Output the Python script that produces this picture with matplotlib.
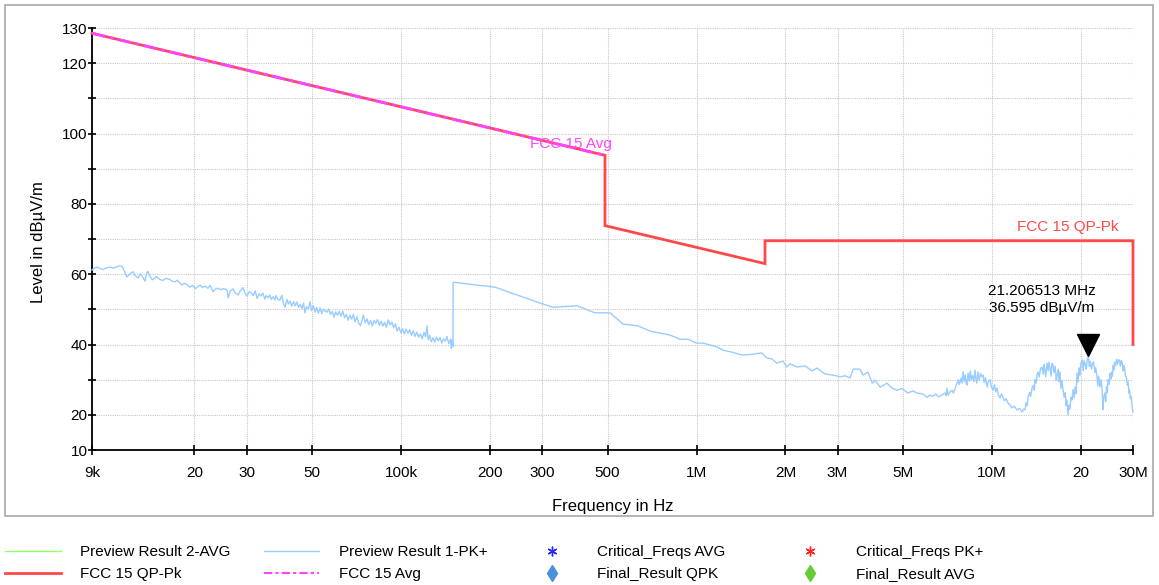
import matplotlib
matplotlib.use("Agg")
import matplotlib.pyplot as plt
from matplotlib.lines import Line2D
from matplotlib.patches import Rectangle
from matplotlib.ticker import FixedLocator, FixedFormatter, NullLocator
import matplotlib.transforms as mtransforms

plt.rcParams['font.family'] = ['Liberation Sans', 'DejaVu Sans']

# ---------------- data ----------------
# Preview Result 1-PK+ : 9 kHz - 150 kHz segment (kHz, dBuV/m)
seg_a_khz = [9.0, 9.2, 9.4, 9.6, 9.8, 10.0, 10.2, 10.4, 10.6, 10.8, 11.0, 11.2, 11.4, 11.6,
             11.8, 12.0, 12.2, 12.4, 12.6, 12.9, 13.1, 13.4, 13.6, 13.8, 13.9, 14.1, 14.4,
             14.7, 14.9, 15.2, 15.6, 16.0, 16.5, 16.8, 17.2, 17.5, 17.8, 18.1, 18.5, 18.9,
             19.3, 19.7, 20.1, 20.5, 20.9, 21.3, 21.7, 22.2, 22.6, 23.1, 23.6, 24.0, 24.5,
             25.0, 25.5, 25.8, 26.0, 26.4, 27.0, 27.5, 28.1, 28.6, 29.2, 29.7, 30.1, 30.6,
             31.1, 31.6, 32.1, 32.6, 33.1, 33.6, 34.1, 34.6, 35.0, 35.5, 36.0, 36.4, 36.9,
             37.4, 37.8, 38.3, 38.9, 39.5, 40.0, 40.5, 41.1, 41.6, 42.1, 42.7, 43.3, 43.8,
             44.4, 45.0, 45.6, 46.2, 46.8, 47.3, 47.9, 48.6, 49.2, 49.8, 50.5, 51.2, 51.8,
             52.5, 53.2, 53.9, 54.6, 55.4, 56.2, 56.9, 57.7, 58.5, 59.3, 60.1, 61.0, 61.8,
             62.6, 63.5, 64.4, 65.3, 66.2, 67.1, 68.0, 69.0, 69.9, 70.9, 71.9, 72.9, 73.9,
             74.6, 75.6, 76.7, 77.7, 78.8, 79.9, 81.0, 82.1, 83.3, 84.5, 85.6, 86.8, 88.0,
             89.3, 90.5, 91.8, 93.1, 94.4, 95.7, 97.0, 98.4, 99.8, 101.2, 102.6, 104.0,
             105.5, 107.0, 108.5, 110.0, 111.5, 113.1, 114.7, 116.3, 117.9, 119.6, 121.2,
             122.4, 123.5, 125.0, 126.5, 128.3, 130.0, 131.8, 133.6, 135.5, 137.4, 139.3,
             141.2, 143.1, 145.0, 147.0, 148.0, 149.0, 149.9]
seg_a_db = [61.2, 61.8, 62.0, 61.6, 61.3, 61.7, 61.9, 62.0, 61.7, 61.9, 62.2, 62.4, 62.1, 60.8,
            59.2, 59.8, 60.3, 60.7, 59.6, 58.9, 60.1, 59.0, 58.0, 60.4, 60.8, 59.6, 58.4,
            58.9, 59.3, 58.6, 58.2, 58.8, 58.5, 58.0, 57.8, 58.3, 57.6, 56.9, 57.4, 57.0,
            56.3, 56.8, 55.9, 56.4, 56.9, 56.2, 56.6, 56.0, 56.8, 55.0, 55.8, 56.0, 55.6,
            55.9, 55.7, 55.4, 53.2, 55.2, 55.8, 54.6, 54.1, 55.3, 56.2, 54.5, 53.8, 55.0,
            54.7, 53.9, 55.2, 53.1, 54.4, 53.8, 54.6, 52.9, 53.9, 53.3, 54.1, 52.8, 53.6,
            52.7, 53.9, 52.8, 52.6, 54.0, 51.6, 50.7, 52.8, 51.5, 52.4, 50.9, 52.2, 51.0,
            52.1, 50.6, 51.4, 50.2, 51.8, 49.0, 50.8, 50.1, 52.2, 49.6, 51.0, 49.2, 50.5,
            48.9, 50.4, 48.8, 50.0, 49.5, 49.2, 50.1, 48.6, 49.4, 47.8, 49.3, 48.3, 49.4,
            48.0, 49.5, 47.6, 48.6, 46.9, 48.3, 47.2, 48.6, 46.4, 47.9, 46.0, 45.4, 47.2,
            48.4, 46.2, 47.3, 45.6, 46.9, 45.3, 46.8, 46.0, 47.1, 45.4, 46.6, 45.2, 46.3,
            44.9, 47.0, 45.6, 46.4, 44.8, 45.9, 43.8, 44.9, 43.3, 44.5, 43.0, 44.4,
            43.2, 44.2, 42.6, 43.9, 42.3, 43.5, 42.1, 43.0, 41.6, 43.4, 42.2,
            45.3, 41.4, 42.6, 40.8, 41.9, 40.7, 42.1, 41.0, 42.0, 40.4, 41.6,
            40.9, 42.3, 40.2, 41.5, 38.9, 41.3, 39.4]

# 150 kHz - 6 MHz segment (MHz, dBuV/m)
seg_b_mhz = [0.1501, 0.208, 0.295, 0.327, 0.394, 0.453, 0.510, 0.564, 0.634, 0.696, 0.813,
             0.879, 0.936, 1.00, 1.05, 1.11, 1.17, 1.23, 1.32, 1.43, 1.54, 1.66, 1.73, 1.80,
             1.87, 1.96, 2.02, 2.07, 2.19, 2.33, 2.46, 2.56, 2.72, 2.90, 3.06, 3.18, 3.31,
             3.39, 3.57, 3.66, 3.80, 3.93, 4.02, 4.18, 4.41, 4.59, 4.77, 4.96, 5.19, 5.40,
             5.57, 5.84, 6.03]
seg_b_db = [57.7, 56.3, 51.8, 50.6, 51.0, 49.0, 49.0, 45.8, 45.3, 43.8, 42.7,
            41.5, 41.5, 40.4, 40.4, 39.9, 39.3, 38.4, 37.8, 37.0, 37.2, 37.6, 36.2, 35.9,
            34.7, 35.3, 33.6, 34.5, 33.6, 33.9, 32.5, 33.3, 31.6, 31.3, 30.8, 31.1, 30.5,
            33.0, 33.0, 31.3, 32.2, 29.0, 29.9, 27.9, 29.0, 27.6, 27.0, 27.5, 26.2, 26.8,
            26.2, 25.9, 25.0]

# 6 MHz - 30 MHz segment (MHz, dBuV/m)
seg_c_mhz = [6.16, 6.3, 6.45, 6.6, 6.75, 6.93, 7.00, 7.04, 7.10, 7.2, 7.32, 7.4, 7.5, 7.6,
             7.67, 7.75, 7.85, 7.92, 7.98, 8.05, 8.12, 8.18, 8.23, 8.30, 8.38, 8.45, 8.52,
             8.6, 8.68, 8.76, 8.82, 8.89, 8.96, 9.05, 9.15, 9.25, 9.32, 9.4, 9.5, 9.62, 9.72,
             9.85, 9.95, 10.08, 10.2, 10.3, 10.4, 10.52, 10.64, 10.76, 10.89, 11.0, 11.15,
             11.32, 11.5, 11.68, 11.9, 12.15, 12.4, 12.63, 12.8, 12.93, 13.05, 13.15, 13.24,
             13.4, 13.5, 13.66, 13.8, 13.9, 13.98, 14.1, 14.2, 14.31, 14.45, 14.6, 14.76,
             14.9, 15.0, 15.1, 15.2, 15.35, 15.5, 15.6, 15.7, 15.85, 15.95, 16.08, 16.2,
             16.35, 16.5, 16.6, 16.75, 16.85, 16.99, 17.1, 17.25, 17.39, 17.55, 17.7, 17.8,
             17.94, 18.08, 18.2, 18.35, 18.5, 18.65, 18.8, 18.95, 19.1, 19.25, 19.4, 19.55,
             19.7, 19.85, 20.0, 20.2, 20.35, 20.5, 20.7, 20.85, 21.0, 21.2, 21.35, 21.5,
             21.7, 21.9, 22.07, 22.3, 22.45, 22.66, 22.8, 22.95, 23.2, 23.4, 23.6, 23.74,
             23.9, 24.1, 24.25, 24.4, 24.55, 24.7, 24.9, 25.1, 25.25, 25.4, 25.55, 25.7,
             25.85, 26.0, 26.2, 26.4, 26.6, 26.8, 27.0, 27.2, 27.4, 27.6, 27.8, 27.95, 28.1,
             28.3, 28.5, 28.7, 28.9, 29.05, 29.2, 29.4, 29.55, 29.7, 29.85, 30.0]
seg_c_db = [25.6, 25.3, 25.9, 25.1, 25.6, 26.2, 25.4, 27.6, 25.6, 26.5, 27.0, 26.2, 27.6, 28.8,
            30.0, 28.6, 30.4, 29.0, 32.2, 29.5, 31.4, 28.8, 28.5, 31.9, 29.6, 32.5, 30.0,
            31.2, 29.4, 32.7, 30.3, 29.0, 32.2, 29.8, 31.8, 30.8, 31.3, 29.2, 30.6, 27.9, 29.6,
            30.0, 28.0, 27.0, 28.6, 26.5, 27.6, 25.6, 24.8, 26.0, 25.1, 24.0, 24.6,
            23.4, 22.8, 22.0, 22.4, 21.4, 21.8, 20.8, 21.6, 21.4, 23.5, 22.6, 25.0,
            26.4, 25.2, 27.6, 28.4, 27.0, 30.0, 29.0, 31.5, 32.2, 30.8, 33.2, 33.6,
            31.5, 34.3, 32.8, 30.8, 34.7, 32.6, 35.0, 33.3, 31.0, 34.6, 34.2, 32.0,
            33.8, 29.8, 31.3, 33.0, 29.4, 32.2, 27.5, 29.8, 27.0, 25.0, 26.3, 22.6,
            24.2, 20.0, 22.8, 21.6, 25.0, 24.2, 27.2, 24.8, 27.9, 26.0, 31.9, 29.3,
            33.4, 31.2, 34.8, 35.6, 32.6, 35.4, 34.2, 33.0, 35.8, 36.6, 33.8, 35.2,
            33.0, 34.7, 35.0, 32.0, 33.4, 30.8, 28.2, 31.0, 27.9, 30.0, 27.0, 21.4,
            25.2, 26.2, 23.8, 28.0, 26.4, 30.0, 28.6, 31.8, 30.2, 32.2, 31.0, 34.0,
            32.8, 35.0, 34.0, 35.8, 34.4, 35.6, 35.6, 33.8, 35.4, 34.7, 32.5, 34.0, 33.3,
            31.0, 30.8, 28.5, 29.3, 26.2, 27.0, 24.6, 25.3, 23.4, 21.8, 20.8]

# Limit lines
qp_freq_hz = [9e3, 490e3, 490e3, 1.705e6, 1.705e6, 30e6, 30e6]
qp_level = [128.5, 93.8, 73.8, 63.0, 69.5, 69.5, 40.0]
avg_freq_hz = [9e3, 490e3]
avg_level = [128.5, 93.8]

# Marker
marker_freq_hz = 21.206513e6
marker_level = 36.595

# Axis ticks
x_ticks = [9e3, 2e4, 3e4, 5e4, 1e5, 2e5, 3e5, 5e5, 1e6, 2e6, 3e6, 5e6, 1e7, 2e7, 3e7]
x_ticklabels = ['9k', '20', '30', '50', '100k', '200', '300', '500', '1M', '2M', '3M',
                '5M', '10M', '20', '30M']
y_ticks = [10, 20, 30, 40, 50, 60, 70, 80, 90, 100, 110, 120, 130]
y_ticklabels = ['10', '20', '', '40', '', '60', '', '80', '', '100', '', '120', '130']

# ---------------- colours ----------------
C_SPEC = '#99ccff'
C_QP = '#ff4848'
C_AVG = '#ff44ff'
C_GREEN = '#90ff70'

W, H = 1159, 585
fig = plt.figure(figsize=(W / 100, H / 100), dpi=100)
fig.patch.set_facecolor('white')

def fx(px):
    return px / W

def fy(py):
    return 1 - py / H

# outer frame
fig.add_artist(Rectangle((fx(5), fy(516)), fx(1153) - fx(5), fy(5) - fy(516),
                         transform=fig.transFigure, fill=False,
                         edgecolor='#a8a8a8', linewidth=1.2))

ax = fig.add_axes([fx(92), fy(450), fx(1133) - fx(92), fy(28) - fy(450)])
ax.set_xscale('log')
ax.set_xlim(9e3, 30e6)
ax.set_ylim(10, 130)

# spectrum
spec_f = [v * 1e3 for v in seg_a_khz] + [v * 1e6 for v in seg_b_mhz] + [v * 1e6 for v in seg_c_mhz]
spec_l = seg_a_db + seg_b_db + seg_c_db
ax.plot(spec_f, spec_l, color=C_SPEC, linewidth=1.0, zorder=3, clip_on=False)

# limits
ax.plot(qp_freq_hz, qp_level, color=C_QP, linewidth=2.0, zorder=4, clip_on=False,
        solid_joinstyle='miter')
ax.plot(avg_freq_hz, avg_level, color=C_AVG, linewidth=2.0, zorder=5, clip_on=False,
        linestyle=(0, (5, 1.5, 1.5, 1.5)))

ax.text(518e3, 97.0, 'FCC 15 Avg', color=C_AVG, fontsize=11, ha='right', va='center', zorder=6)
ax.text(26.7e6, 73.4, 'FCC 15 QP-Pk', color=C_QP, fontsize=11, ha='right', va='center', zorder=6)

# marker
trans_off = mtransforms.offset_copy(ax.transData, fig=fig, x=0, y=8.0, units='points')
ax.plot([marker_freq_hz], [marker_level], marker='v', markersize=16.5, color='black',
        linestyle='none', transform=trans_off, zorder=7, clip_on=False)
ax.annotate('21.206513 MHz\n%.3f dBµV/m' % marker_level,
            xy=(marker_freq_hz, marker_level), xytext=(-47, 57), textcoords='offset pixels',
            ha='center', va='center', multialignment='center', fontsize=11,
            linespacing=1.3, zorder=7)

# axes styling
for s in ['top', 'right']:
    ax.spines[s].set_visible(False)
for s in ['left', 'bottom']:
    ax.spines[s].set_linewidth(1.3)
    ax.spines[s].set_color('black')

ax.xaxis.set_major_locator(FixedLocator(x_ticks))
ax.xaxis.set_major_formatter(FixedFormatter(x_ticklabels))
ax.xaxis.set_minor_locator(NullLocator())
ax.yaxis.set_major_locator(FixedLocator(y_ticks))
ax.yaxis.set_major_formatter(FixedFormatter(y_ticklabels))
ax.yaxis.set_minor_locator(NullLocator())

ax.tick_params(axis='x', direction='inout', length=7, width=1.2, labelsize=11, pad=8)
ax.tick_params(axis='y', direction='inout', length=5.5, width=1.2, labelsize=11, pad=0.5)

ax.grid(True, which='major', color='#c8c8c8', linestyle=(0, (1, 1)), linewidth=0.8, zorder=0)
ax.set_axisbelow(True)

ax.set_xlabel('Frequency in Hz', fontsize=12, va='center')
ax.xaxis.set_label_coords(0.5, (450 - 507) / 422)
ax.set_ylabel('Level in dBµV/m', fontsize=12, va='center')
ax.yaxis.set_label_coords((38 - 92) / 1041, (450 - 242) / 422)

# ---------------- legend ----------------
row1, row2 = 551, 573
def leg_line(x0, x1, y, **kw):
    fig.add_artist(Line2D([fx(x0), fx(x1)], [fy(y), fy(y)], transform=fig.transFigure, **kw))

def leg_marker(x, y, **kw):
    fig.add_artist(Line2D([fx(x)], [fy(y)], transform=fig.transFigure, linestyle='none', **kw))

def leg_text(x, y, s):
    fig.text(fx(x), fy(y), s, fontsize=11, ha='left', va='center')

leg_line(5, 61, row1, color=C_GREEN, linewidth=1.0)
leg_text(80, row1 + 1, 'Preview Result 2-AVG')
leg_line(5, 61, row2, color=C_QP, linewidth=2.0)
leg_text(80, row2 + 1, 'FCC 15 QP-Pk')

leg_line(264, 319, row1, color=C_SPEC, linewidth=1.0)
leg_text(339, row1 + 1, 'Preview Result 1-PK+')
leg_line(264, 319, row2, color=C_AVG, linewidth=1.5, linestyle=(0, (4, 1.5, 1.5, 1.5)))
leg_text(339, row2 + 1, 'FCC 15 Avg')

leg_marker(552, row1, marker=(6, 2, 0), markersize=7, color='#2828ff', markeredgewidth=1.0)
leg_text(597, row1 + 1, 'Critical_Freqs AVG')
leg_marker(552, row2, marker='d', markersize=8, color='#4a90dd')
leg_text(597, row2 + 1, 'Final_Result QPK')

leg_marker(810, row1, marker=(6, 2, 0), markersize=7, color='#ff2020', markeredgewidth=1.0)
leg_text(856, row1 + 1, 'Critical_Freqs PK+')
leg_marker(810, row2, marker='d', markersize=8, color='#66cc33')
leg_text(856, row2 + 1, 'Final_Result AVG')

fig.savefig('out.png', dpi=100)
